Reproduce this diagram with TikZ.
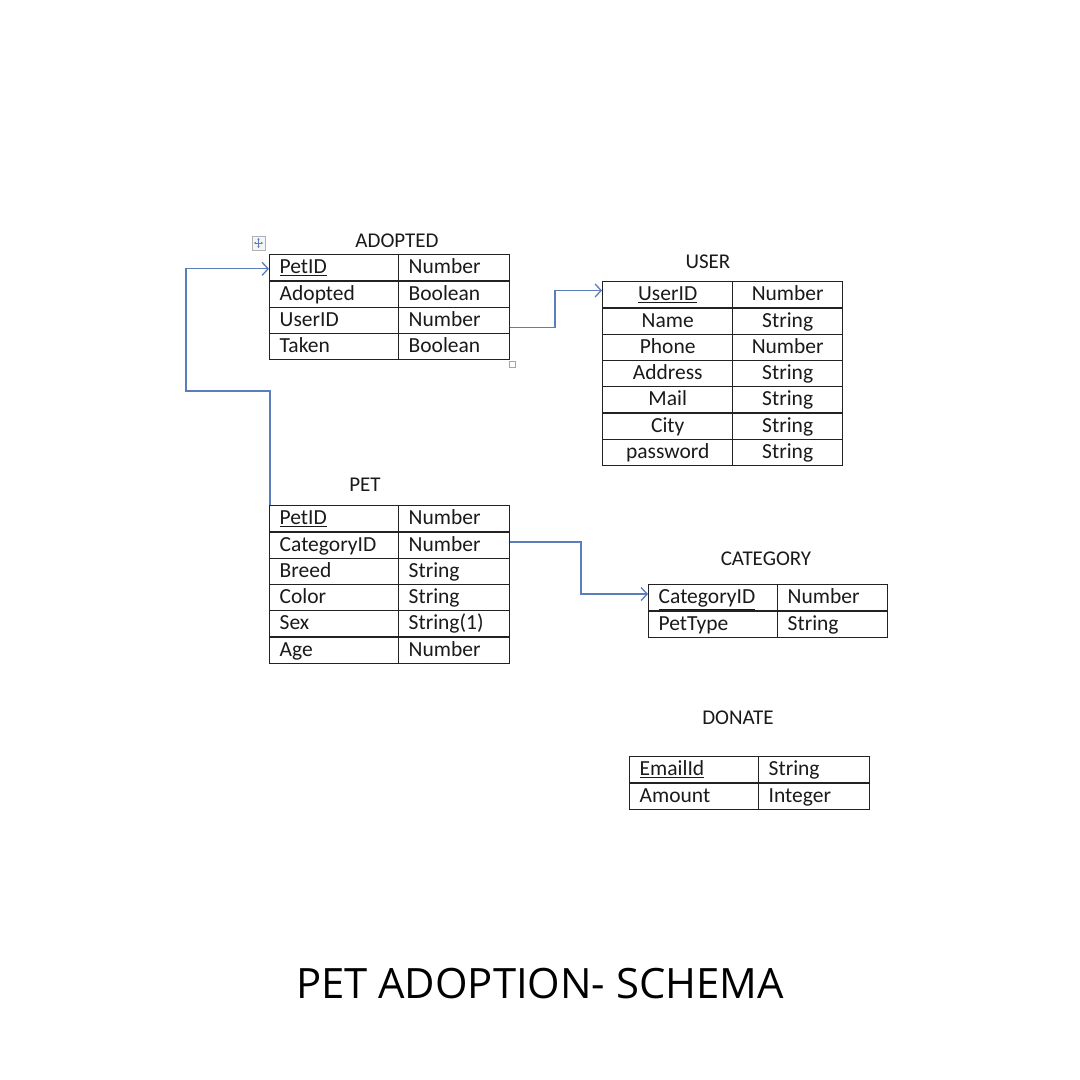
\documentclass[tikz,border=0pt]{standalone}
\usepackage{fontspec}
\setmainfont{Carlito}
\newfontfamily\titlefont{Open Sans}
\usetikzlibrary{arrows.meta}
\definecolor{connblue}{HTML}{5B7DBD}
\definecolor{tblline}{HTML}{222222}
\definecolor{txt}{HTML}{1A1A1A}
\newcommand\tblfont{\fontsize{21.5bp}{25bp}\selectfont}
\newcommand\hdrfont{\fontsize{21bp}{25bp}\selectfont}
\tikzset{
  cell/.style={draw=tblline, line width=1.4bp, anchor=north west, minimum height=26.25bp,
    inner xsep=10bp, inner ysep=0pt, text height=15bp, text depth=3bp, font=\tblfont, text=txt},
  wl/.style={cell, minimum width=129bp, text width=109bp},
  wr/.style={cell, minimum width=111bp, text width=91bp},
  al/.style={align=left},
  ac/.style={align=center},
  ttl/.style={font=\hdrfont, text=txt, inner sep=0pt},
  conn/.style={draw=connblue, line width=1.3bp, -{Straight Barb[length=6bp,width=13bp,line width=1.3bp]}}
}
\begin{document}
\begin{tikzpicture}[x=1bp,y=-1bp]
\useasboundingbox[fill=white] (0,0) rectangle (1080,1080);

% ADOPTED
\node[ttl] (tA) at (397,241) {ADOPTED};
\node[wl,al] (a1) at (269,254) {\underline{PetID}};
\node[wr,al] (a1b) at (398,254) {Number};
\node[wl,al] (a2) at (269,280.25) {Adopted};
\node[wr,al] (a2b) at (398,280.25) {Boolean};
\node[wl,al] (a3) at (269,306.5) {UserID};
\node[wr,al] (a3b) at (398,306.5) {Number};
\node[wl,al] (a4) at (269,332.75) {Taken};
\node[wr,al] (a4b) at (398,332.75) {Boolean};
% move icon and resize handle
\draw[gray!60, line width=0.8bp, fill=gray!8] (252,236) rectangle (265,250);
\draw[connblue, line width=0.9bp, {Stealth[length=2.2bp,width=2.6bp]}-{Stealth[length=2.2bp,width=2.6bp]}] (254,243) -- (263,243);
\draw[connblue, line width=0.9bp, {Stealth[length=2.2bp,width=2.6bp]}-{Stealth[length=2.2bp,width=2.6bp]}] (258.5,238) -- (258.5,248);
\draw[gray!70, line width=0.8bp, fill=white] (509,361) rectangle (515,367);

% USER
\node[ttl] (tU) at (708,262) {USER};
\node[wl,ac,minimum width=130bp,text width=110bp] (u1) at (602,281) {\underline{UserID}};
\node[wr,ac,minimum width=110bp,text width=90bp] (u1b) at (732,281) {Number};
\node[wl,ac,minimum width=130bp,text width=110bp] (u2) at (602,307.25) {Name};
\node[wr,ac,minimum width=110bp,text width=90bp] (u2b) at (732,307.25) {String};
\node[wl,ac,minimum width=130bp,text width=110bp] (u3) at (602,333.5) {Phone};
\node[wr,ac,minimum width=110bp,text width=90bp] (u3b) at (732,333.5) {Number};
\node[wl,ac,minimum width=130bp,text width=110bp] (u4) at (602,359.75) {Address};
\node[wr,ac,minimum width=110bp,text width=90bp] (u4b) at (732,359.75) {String};
\node[wl,ac,minimum width=130bp,text width=110bp] (u5) at (602,386) {Mail};
\node[wr,ac,minimum width=110bp,text width=90bp] (u5b) at (732,386) {String};
\node[wl,ac,minimum width=130bp,text width=110bp] (u6) at (602,412.25) {City};
\node[wr,ac,minimum width=110bp,text width=90bp] (u6b) at (732,412.25) {String};
\node[wl,ac,minimum width=130bp,text width=110bp] (u7) at (602,438.5) {password};
\node[wr,ac,minimum width=110bp,text width=90bp] (u7b) at (732,438.5) {String};

% PET
\node[ttl] (tP) at (365,485) {PET};
\node[wl,al] (p1) at (269,505) {\underline{PetID}};
\node[wr,al] (p1b) at (398,505) {Number};
\node[wl,al] (p2) at (269,531.25) {CategoryID};
\node[wr,al] (p2b) at (398,531.25) {Number};
\node[wl,al] (p3) at (269,557.5) {Breed};
\node[wr,al] (p3b) at (398,557.5) {String};
\node[wl,al] (p4) at (269,583.75) {Color};
\node[wr,al] (p4b) at (398,583.75) {String};
\node[wl,al] (p5) at (269,610) {Sex};
\node[wr,al] (p5b) at (398,610) {String(1)};
\node[wl,al] (p6) at (269,636.25) {Age};
\node[wr,al] (p6b) at (398,636.25) {Number};

% CATEGORY
\node[ttl] (tC) at (766,559) {CATEGORY};
\node[wl,al] (c1) at (648,584) {\underline{CategoryID}};
\node[wr,al,minimum width=110bp,text width=90bp] (c1b) at (777,584) {Number};
\node[wl,al] (c2) at (648,610.25) {PetType};
\node[wr,al,minimum width=110bp,text width=90bp] (c2b) at (777,610.25) {String};

% DONATE
\node[ttl] (tD) at (738,718) {DONATE};
\node[wl,al] (d1) at (629,756) {\underline{EmailId}};
\node[wr,al] (d1b) at (758,756) {String};
\node[wl,al] (d2) at (629,782.5) {Amount};
\node[wr,al] (d2b) at (758,782.5) {Integer};

% connectors
\coordinate (j2) at (186,391);
\draw[conn] ([xshift=1bp]p1.north west) |- (j2) |- ([yshift=-1bp]a1.west);
\coordinate (k) at (555,290.5);
\draw[conn] ([yshift=-7bp]a3b.east) -| (k) -- (u1.west |- k);
\coordinate (m) at (581,594);
\draw[conn] ([yshift=3bp]p2b.east) -| (m) -- (c1.west |- m);

% title
\node[font=\titlefont\fontsize{41.8bp}{50bp}\selectfont, text=black, inner sep=0pt] (title) at (540,984) {PET ADOPTION- SCHEMA};
\end{tikzpicture}
\end{document}
